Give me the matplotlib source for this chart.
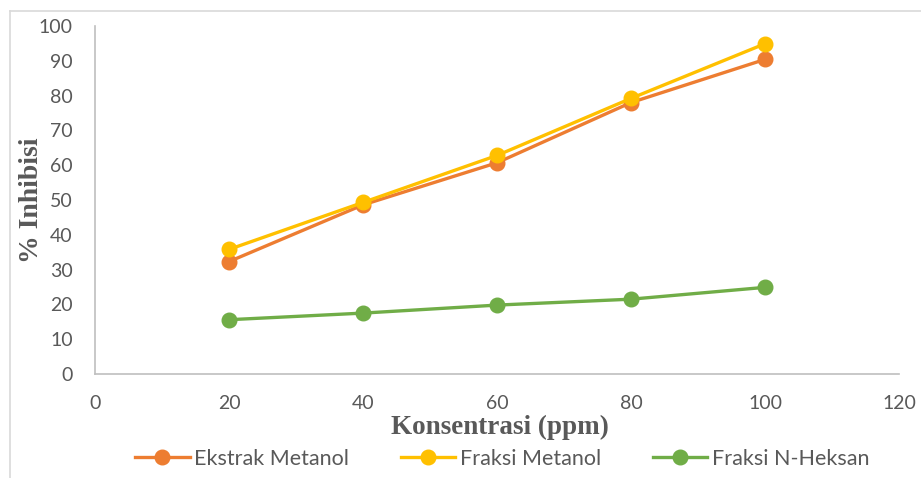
import matplotlib
matplotlib.use("Agg")
import matplotlib.pyplot as plt
from matplotlib.lines import Line2D

konsentrasi = [20, 40, 60, 80, 100]
ekstrak_metanol = [32.3, 48.6, 60.7, 78.0, 90.4]
fraksi_metanol = [35.8, 49.3, 62.8, 79.2, 94.9]
fraksi_nheksan = [15.6, 17.5, 19.8, 21.5, 24.9]
series_names = ["Ekstrak Metanol", "Fraksi Metanol", "Fraksi N-Heksan"]
colors = ["#ED7D31", "#FFC000", "#70AD47"]

tick_font = "Lato"
txt_color = "#595959"

fig = plt.figure(figsize=(9.21, 4.78), dpi=100)
ax = fig.add_axes([95/921, 1-374/478, (899-95)/921, (374-26)/478])

for ys, c, name in zip([ekstrak_metanol, fraksi_metanol, fraksi_nheksan], colors, series_names):
    ax.plot(konsentrasi, ys, color=c, lw=2.4, marker="o", ms=10.5, label=name,
            solid_capstyle="round")

ax.set_xlim(0, 120)
ax.set_ylim(0, 100)
ax.set_xticks(range(0, 121, 20))
ax.set_yticks(range(0, 101, 10))
for s in ["top", "right"]:
    ax.spines[s].set_visible(False)
for s in ["left", "bottom"]:
    ax.spines[s].set_color("#BFBFBF")
    ax.spines[s].set_linewidth(1.2)
ax.tick_params(length=0, labelsize=14, colors=txt_color)
ax.tick_params(axis="y", pad=16)
ax.tick_params(axis="x", pad=15)
for lab in ax.get_xticklabels() + ax.get_yticklabels():
    lab.set_fontfamily(tick_font)

fig.text(500/921, 1-427/478, "Konsentrasi (ppm)", ha="center", va="center",
         fontsize=19.5, fontweight="bold", family="Liberation Serif", color=txt_color)
fig.text(32/921, 1-200/478, "% Inhibisi", ha="center", va="center", rotation=90,
         fontsize=20, fontweight="bold", family="Liberation Serif", color=txt_color)

handles = [Line2D([], [], color=c, lw=2.4, marker="o", ms=10.5) for c in colors]
fig.legend(handles, series_names, loc="center", bbox_to_anchor=(502/921, 1-459/478),
           ncol=3, frameon=False, prop={"family": tick_font, "size": 15.5},
           labelcolor=txt_color, handlelength=2.55, handletextpad=0.2, columnspacing=2.4,
           borderpad=0, borderaxespad=0)

# outer chart border (left and top visible)
fig.add_artist(Line2D([10/921, 10/921], [0, 1-11/478], transform=fig.transFigure,
                      color="#D9D9D9", lw=1.2))
fig.add_artist(Line2D([10/921, 1], [1-11/478, 1-11/478], transform=fig.transFigure,
                      color="#D9D9D9", lw=1.2))

fig.savefig("out.png", dpi=100)
